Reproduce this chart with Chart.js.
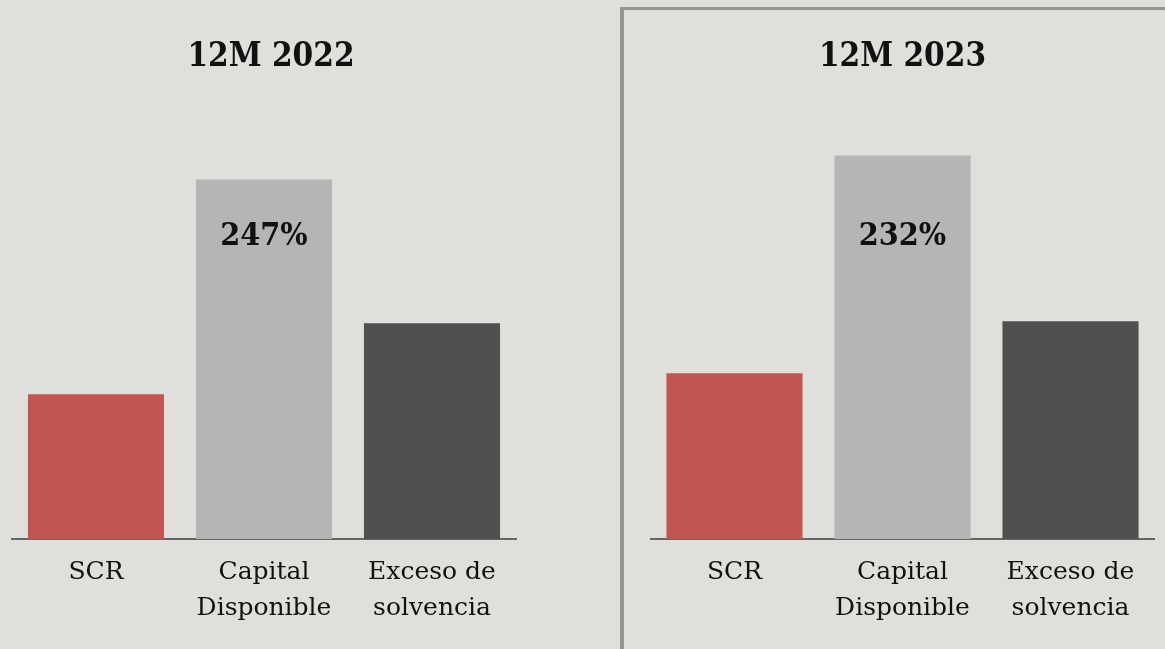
<!DOCTYPE html>
<html>
<head>
<meta charset="utf-8">
<script src="https://cdn.jsdelivr.net/npm/chart.js@4.4.1/dist/chart.umd.min.js"></script>
<style>
  html, body { margin: 0; padding: 0; background: #e1dfdb; }
  body { width: 1165px; height: 649px; position: relative; overflow: hidden; }
  #boxLeft { position: absolute; left: 0; top: 0; width: 560px; height: 649px; }
  #frame { position: absolute; left: 620px; top: 7px; width: 560px; height: 660px;
           border-left: 4px solid #959595; border-top: 3px solid #959595; }
  #boxRight { position: absolute; left: 600px; top: 0; width: 565px; height: 649px; }
</style>
</head>
<body>
<div id="frame"></div>
<div id="boxLeft"><canvas id="chartLeft" width="560" height="649"></canvas></div>
<div id="boxRight"><canvas id="chartRight" width="565" height="649"></canvas></div>
<script>
// categories et valeurs (hauteurs, unités relatives)
const categories = [['SCR'], ['Capital', 'Disponible'], ['Exceso de', 'solvencia']];
const periods = ['12M 2022', '12M 2023'];
const values2022 = [145, 360, 216];
const values2023 = [166, 384, 218];
const ratios = ['247%', '232%'];
const barColors = ['#c25552', '#b5b5b5', '#505050'];

const FONT_BOLD = '"DejaVu Serif Condensed", "DejaVu Serif", serif';
const FONT_TXT = '"DejaVu Serif", serif';

// affiche le ratio dans la barre "Capital Disponible"
const ratioLabel = {
  id: 'ratioLabel',
  afterDatasetsDraw(chart, args, opts) {
    const bar = chart.getDatasetMeta(0).data[1];
    const ctx = chart.ctx;
    ctx.save();
    ctx.font = 'bold 32px ' + FONT_BOLD;
    ctx.fillStyle = '#111';
    ctx.textAlign = 'center';
    ctx.textBaseline = 'middle';
    ctx.fillText(opts.text, bar.x, chart.chartArea.top + 137);
    ctx.restore();
  }
};

// shift = décalage du titre vers la droite (via un axe y invisible à droite)
function makeChart(canvasId, title, values, ratio, padLeft, padRight, shift) {
  const ctx = document.getElementById(canvasId).getContext('2d');
  return new Chart(ctx, {
    type: 'bar',
    data: {
      labels: categories,
      datasets: [{
        data: values,
        backgroundColor: barColors,
        borderWidth: 0,
        barPercentage: 0.81,
        categoryPercentage: 1
      }]
    },
    options: {
      responsive: false,
      animation: false,
      layout: { padding: { left: padLeft, right: padRight - shift, top: 0, bottom: 0 } },
      plugins: {
        legend: { display: false },
        tooltip: { enabled: false },
        title: {
          display: true,
          text: title,
          color: '#111',
          font: { family: FONT_BOLD, size: 33, weight: 'bold', lineHeight: 1.2 },
          padding: { top: 38, bottom: 22 }
        },
        ratioLabel: { text: ratio }
      },
      scales: {
        y: {
          display: shift > 0,
          position: 'right',
          min: 0,
          max: 440,
          grid: { display: false },
          border: { display: false },
          ticks: { display: false },
          afterFit(scale) { scale.width = shift; }
        },
        x: {
          grid: { display: false, drawTicks: false },
          border: { display: true, color: '#666', width: 2 },
          ticks: {
            color: '#111',
            padding: 15,
            maxRotation: 0,
            autoSkip: false,
            font: { family: FONT_TXT, size: 25, lineHeight: 1.45 }
          },
          afterFit(scale) { scale.height = 110; }
        }
      }
    },
    plugins: [ratioLabel]
  });
}

makeChart('chartLeft', periods[0], values2022, ratios[0], 12, 44, 14);
makeChart('chartRight', periods[1], values2023, ratios[1], 50.5, 10.5, 0);
</script>
</body>
</html>
